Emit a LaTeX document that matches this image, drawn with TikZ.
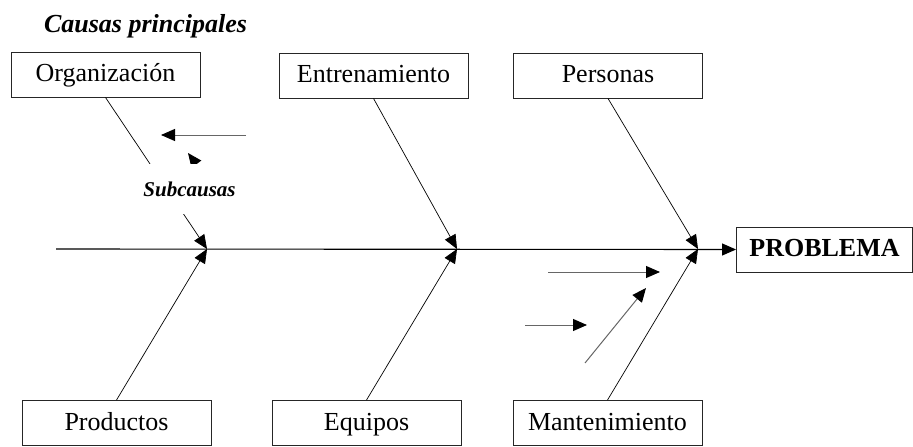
\documentclass[tikz,border=0pt]{standalone}
\usepackage{fontspec}
\setmainfont{Liberation Serif}
\usetikzlibrary{arrows.meta}
\begin{document}
\begin{tikzpicture}[x=1pt,y=-1pt,
  causebox/.style={draw=black!85,line width=0.9pt,minimum width=189pt,minimum height=45pt,inner sep=0pt,text height=19pt,text depth=5pt,font=\fontsize{26}{30}\selectfont},
  bone/.style={line width=0.7pt,-{Triangle[length=14pt,width=12pt]}},
  spine/.style={line width=1.1pt,-{Triangle[length=14pt,width=12pt]}},
  subarrow/.style={draw=black!60,line width=1pt,-{Triangle[length=14pt,width=12pt,color=black]}}]
\useasboundingbox (0,0) rectangle (913,447);
% boxes
\node[causebox] (org) at (105.5,74.5) {Organización};
\node[causebox] (ent) at (373.5,75.5) {Entrenamiento};
\node[causebox] (per) at (608,75.5) {Personas};
\node[causebox] (pro) at (116.5,423) {Productos};
\node[causebox] (equ) at (366.5,423) {Equipos};
\node[causebox] (man) at (607.5,423) {Mantenimiento};
\node[causebox,minimum width=176pt,font=\fontsize{26}{30}\selectfont\bfseries] (prob) at (824.5,249.5) {PROBLEMA};
\node[anchor=base,font=\fontsize{26}{30}\selectfont\bfseries\itshape] (title) at (145.5,32) {Causas principales};
% spine
\coordinate (tail) at (56,249);
\coordinate (j1) at (207,249);
\coordinate (j2) at (457,249);
\coordinate (j3) at (698,249);
\draw[spine] (tail) -- (prob.west);
% bones
\draw[bone] (org.south) -- (j1);
\draw[bone] (pro.north) -- (j1);
\draw[bone] (ent.south) -- (j2);
\draw[bone] (equ.north) -- (j2);
\draw[bone] (per.south) -- (j3);
\draw[bone] (man.north) -- (j3);
% sub-cause arrows
\coordinate (a1s) at (246,135); \coordinate (a1e) at (161,135);
\coordinate (a2s) at (215,189); \coordinate (a2e) at (188,153);
\coordinate (a3s) at (548,272); \coordinate (a3e) at (660,272);
\coordinate (a4s) at (525,325); \coordinate (a4e) at (587,325);
\coordinate (a5s) at (585,363); \coordinate (a5e) at (646,288);
\draw[subarrow] (a1s) -- (a1e);
\draw[subarrow] (a2s) -- (a2e);
\draw[subarrow] (a3s) -- (a3e);
\draw[subarrow] (a4s) -- (a4e);
\draw[subarrow] (a5s) -- (a5e);
% label covering part of the bone
\node[fill=white,minimum width=100pt,minimum height=50pt,inner sep=0pt,font=\fontsize{21}{25}\selectfont\bfseries\itshape] (sub) at (189.5,189) {Subcausas};
\end{tikzpicture}
\end{document}
